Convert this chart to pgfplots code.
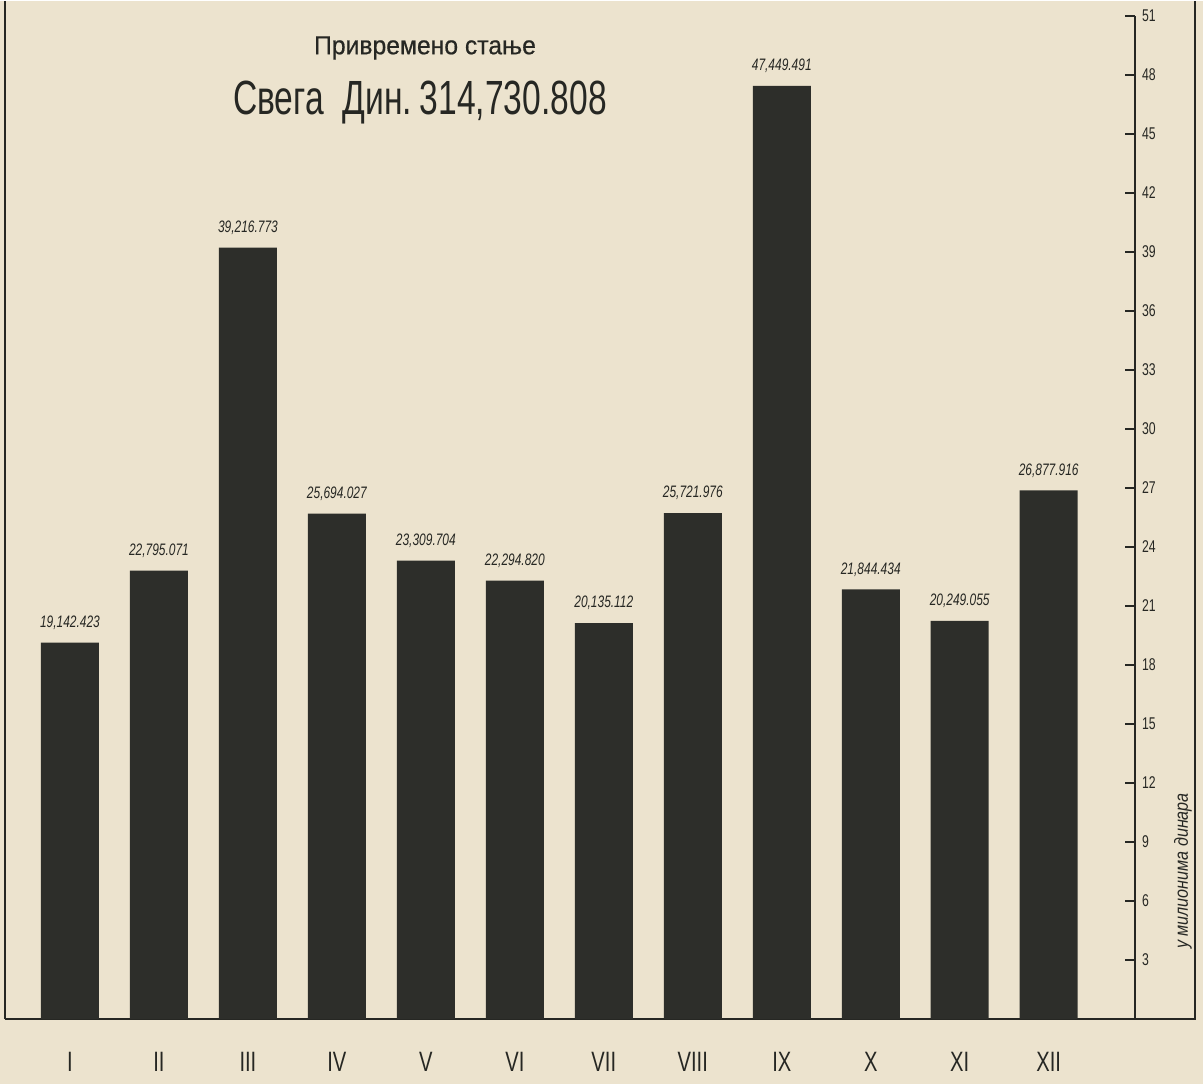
\documentclass[border=0pt]{standalone}
\usepackage{pgfplots}
\pgfplotsset{compat=1.18}
\usepackage{fontspec}
\setmainfont{Liberation Sans}[FakeStretch=0.72]
\newfontfamily\titlefont{Liberation Sans}[FakeStretch=0.7]
\newfontfamily\subtitlefont{Liberation Sans}[FakeStretch=0.95, FakeBold=0.6]
\newfontfamily\labelfont{Liberation Sans}[FakeStretch=0.85]
\definecolor{paper}{RGB}{236,227,206}
\definecolor{ink}{RGB}{38,39,35}
\definecolor{barc}{RGB}{45,46,42}
\begin{document}
\begin{tikzpicture}[x=1pt,y=1pt]
\fill[paper] (-2.5,-32.5) rectangle (599,509);
\begin{axis}[
  at={(0,0)}, anchor=south west, scale only axis,
  width=565pt, height=501.5pt,
  xmin=-0.73, xmax=11.97, ymin=0, ymax=51,
  axis x line*=bottom, axis y line*=right,
  axis line style={line width=1pt, ink},
  ybar, bar width=29pt,
  xtick={0,...,11},
  xticklabels={I,II,III,IV,V,VI,VII,VIII,IX,X,XI,XII},
  x tick style={draw=none},
  xticklabel style={font=\fontsize{14}{14}\selectfont, text=ink, yshift=-8pt},
  ytick={3,6,...,51},
  ytick align=inside, major tick length=5pt,
  y tick style={line width=1pt, ink},
  yticklabel style={font=\fontsize{8.5}{9}\selectfont, text=ink},
  /pgf/number format/assume math mode=true,
  nodes near coords, point meta=explicit symbolic,
  every node near coord/.append style={font=\itshape\fontsize{8.3}{8.3}\selectfont, text=ink, anchor=south, yshift=3pt},
  clip=false,
]
\addplot[fill=barc, draw=none] coordinates {
  (0,19.142423) [19,142.423]
  (1,22.795071) [22,795.071]
  (2,39.216773) [39,216.773]
  (3,25.694027) [25,694.027]
  (4,23.309704) [23,309.704]
  (5,22.294820) [22,294.820]
  (6,20.135112) [20,135.112]
  (7,25.721976) [25,721.976]
  (8,47.449491) [47,449.491]
  (9,21.844434) [21,844.434]
  (10,20.249055) [20,249.055]
  (11,26.877916) [26,877.916]
};
\end{axis}
\draw[ink, line width=1pt] (0,0) -- (0,509);
\draw[ink, line width=1pt] (565,0) -- (595,0) -- (595,509);
\node[text=ink, font=\subtitlefont\fontsize{13}{13}\selectfont] at (210,485.5) {Привремено стање};
\node[text=ink, font=\titlefont\fontsize{24}{24}\selectfont] at (207.5,458) {Свега\ \ Дин.\,314,730.808};
\node[text=ink, rotate=90, font=\labelfont\itshape\fontsize{9.5}{9.5}\selectfont] at (589,74) {у милионима динара};
\end{tikzpicture}
\end{document}
